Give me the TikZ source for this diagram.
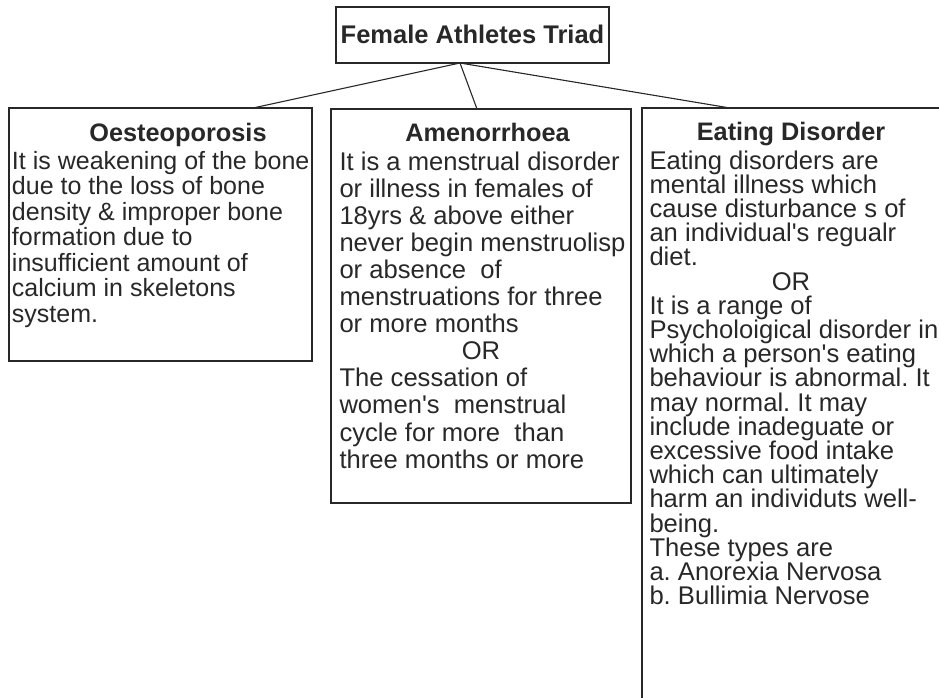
\documentclass[tikz,border=0pt]{standalone}
\usepackage{fontspec}
\setmainfont{Liberation Sans}[Ligatures=TeXOff]
\usetikzlibrary{calc}
\definecolor{ink}{RGB}{40,40,40}
\frenchspacing

% stack of lines; the box's baseline is that of its first line
\newcommand{\linestack}[2]{\vtop{\baselineskip=#1\lineskiplimit=-100pt\lineskip=0pt #2}}
\newcommand{\tline}[1]{\hbox{#1}}

\begin{document}
\begin{tikzpicture}[x=1pt,y=-1pt,
  every node/.style={inner sep=0pt,outer sep=0pt,text=ink,font=\fontsize{25}{25}\selectfont},
  panel/.style={draw=ink,line width=1.1pt,rectangle,anchor=north west},
  heading/.style={anchor=base,font=\fontsize{25.3}{25}\selectfont\bfseries},
  body/.style={anchor=base west,align=left},
  wide/.style={font=\fontsize{25.6}{25}\selectfont},
  link/.style={draw=ink,line width=1.1pt}]
\useasboundingbox (0,0) rectangle (939,698);
\fill[white] (0,0) rectangle (939,698);

% title box
\node[panel,minimum width=273pt,minimum height=56pt] (title) at (336,7) {};
\node[heading,font=\fontsize{25.5}{25}\selectfont\bfseries] (titletext) at (472.5,44) {Female Athletes Triad};

% three topic boxes
\node[panel,minimum width=303pt,minimum height=253pt] (b1) at (9,108) {};
\node[panel,minimum width=300pt,minimum height=394pt] (b2) at (331,109) {};
\begin{scope}
  \clip (0,0) rectangle (939,698);
  \node[panel,minimum width=320pt,minimum height=620pt] (b3) at (642,108) {};
\end{scope}

% connectors from the title to each box
\coordinate (apex) at (460,63);
\coordinate (j1) at (253,108);
\coordinate (j2) at (477,109);
\coordinate (j3) at (730,108);
\draw[link] (apex) -- (j1);
\draw[link] (apex) -- (j2);
\draw[link] (apex) -- (j3);

% Oesteoporosis
\node[heading] (h1) at (178,141) {Oesteoporosis};
\node[body] (t1) at (12,169) {\linestack{25.5pt}{%
  \tline{It is weakening of the bone}
  \tline{due to the loss of bone}
  \tline{density \& improper bone}
  \tline{formation due to}
  \tline{insufficient amount of}
  \tline{calcium in skeletons}
  \tline{system.}}};

% Amenorrhoea
\node[heading] (h2) at (487.5,142) {Amenorrhoea};
\node[body,wide] (t2) at (339.5,170) {\linestack{27.1pt}{%
  \tline{It is a menstrual disorder}
  \tline{or illness in females of}
  \tline{18yrs \& above either}
  \tline{never begin menstruolisp}
  \tline{or absence\ \ of}
  \tline{menstruations for three}
  \tline{or more months}
  \tline{\makebox[283pt]{OR}}
  \tline{The cessation of}
  \tline{women's\ \ menstrual}
  \tline{cycle for more\ \ than}
  \tline{three months or more}}};

% Eating Disorder
\node[heading] (h3) at (791,140) {Eating Disorder};
\node[body,wide] (t3) at (649.5,169) {\linestack{24.2pt}{%
  \tline{Eating disorders are}
  \tline{mental illness which}
  \tline{cause disturbance s of}
  \tline{an individual's regualr}
  \tline{diet.}
  \tline{\makebox[283pt]{OR}}
  \tline{It is a range of}
  \tline{Psycholoigical disorder in}
  \tline{which a person's eating}
  \tline{behaviour is abnormal. It}
  \tline{may normal. It may}
  \tline{include inadeguate or}
  \tline{excessive food intake}
  \tline{which can ultimately}
  \tline{harm an individuts well-}
  \tline{being.}
  \tline{These types are}
  \tline{a. Anorexia Nervosa}
  \tline{b. Bullimia Nervose}}};
\end{tikzpicture}
\end{document}
